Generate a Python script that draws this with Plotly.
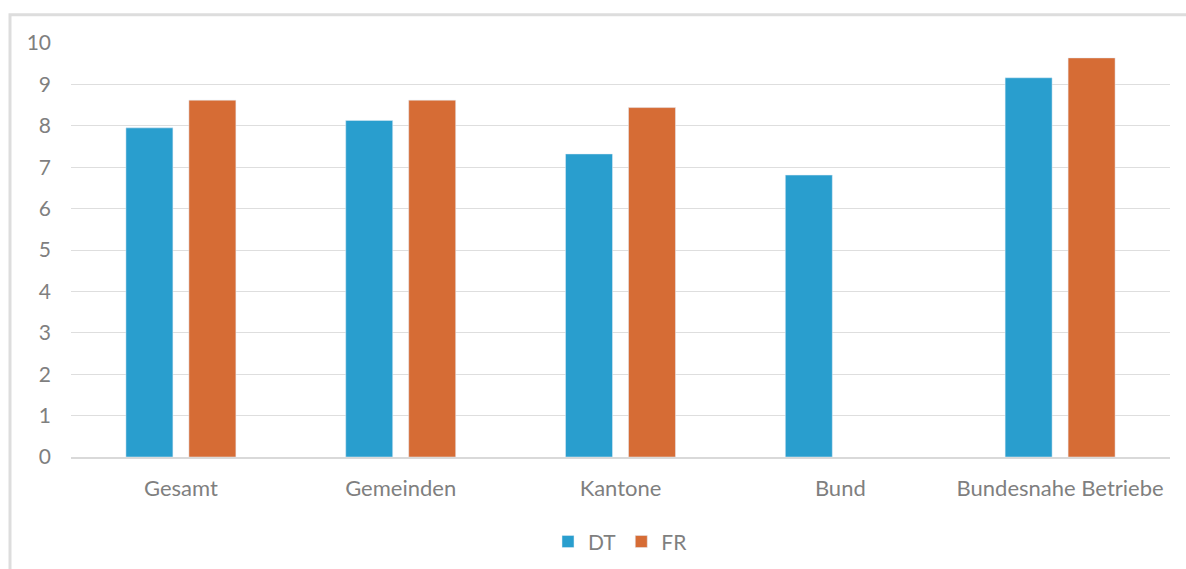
import plotly.graph_objects as go

categories = ["Gesamt", "Gemeinden", "Kantone", "Bund", "Bundesnahe Betriebe"]
dt_values = [7.95, 8.13, 7.32, 6.81, 9.16]
fr_values = [8.62, 8.62, 8.44, None, 9.64]
y_ticks = list(range(0, 11))

BLUE = "#299ECE"
ORANGE = "#D66C35"
TEXT = "#7F7F7F"
FONT = "Lato"
FS = 21

fig = go.Figure()
fig.add_trace(go.Bar(x=categories, y=dt_values, name="DT", marker_color=BLUE))
fig.add_trace(go.Bar(x=categories, y=fr_values, name="FR", marker_color=ORANGE))

fig.update_layout(
    width=1186, height=569,
    margin=dict(l=71, r=16, t=43, b=112, autoexpand=False),
    paper_bgcolor="white", plot_bgcolor="white",
    barmode="group", bargap=0.427, bargroupgap=0.254,
    font=dict(family=FONT, size=FS, color=TEXT),
    showlegend=True,
    legend=dict(orientation="h", x=0.5, xanchor="center", y=-0.205, yanchor="middle",
                font=dict(family=FONT, size=FS, color=TEXT), itemwidth=30,
                traceorder="normal"),
    xaxis=dict(showgrid=False, showline=True, linecolor="#D9D9D9", linewidth=2,
               ticks="", ticklabelstandoff=11,
               tickfont=dict(family=FONT, size=22, color=TEXT)),
    yaxis=dict(range=[0, 10], tickvals=y_ticks, showgrid=True, gridcolor="#DEDEDE",
               gridwidth=1, zeroline=False, showline=False, ticks="",
               ticklabelstandoff=19,
               tickfont=dict(family=FONT, size=FS, color=TEXT)),
    shapes=[dict(type="rect", xref="paper", yref="paper",
                 x0=-0.0555, x1=1.03, y0=-0.35, y1=1.0685,
                 line=dict(color="#DDDDDD", width=3), layer="below")],
)

fig.write_html("out.html")
